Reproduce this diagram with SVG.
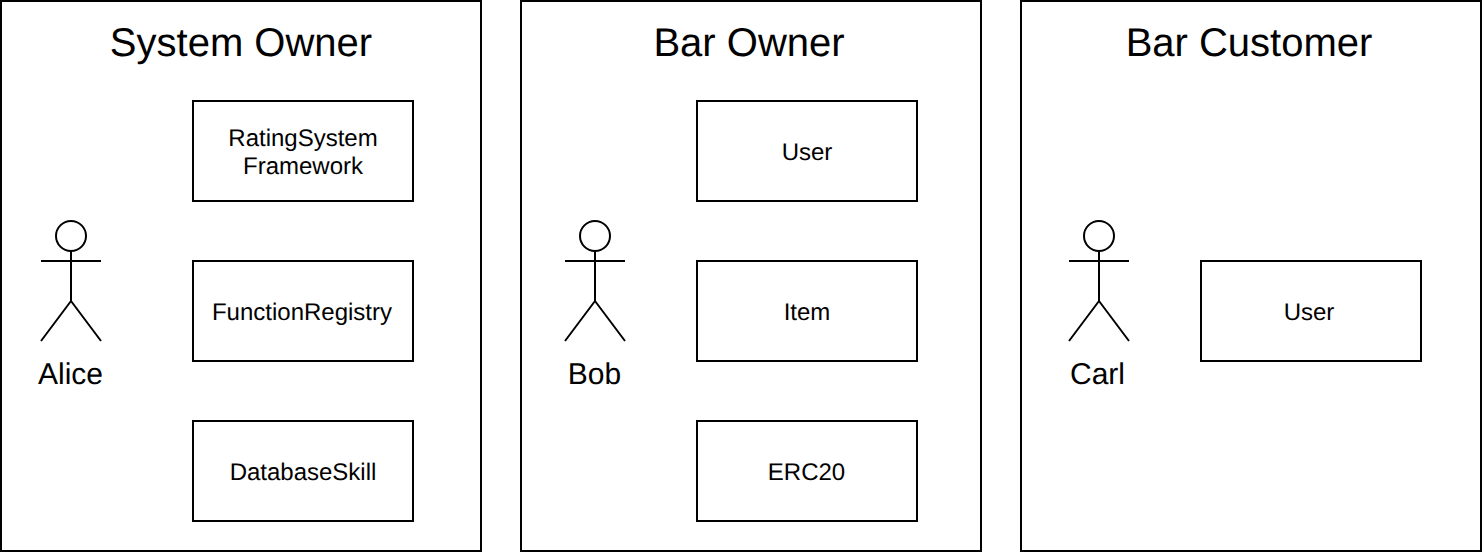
<svg xmlns="http://www.w3.org/2000/svg" width="1482" height="552" viewBox="0 0 1482 552">
<style>
.b{fill:#fff;stroke:#000;stroke-width:2}
.l{fill:none;stroke:#000;stroke-width:2}
text{font-family:"Liberation Sans",Arial,sans-serif;fill:#000;text-anchor:middle;text-rendering:geometricPrecision}
.h{font-size:40px}.a{font-size:30px}.t{font-size:24px}
</style>
<defs>
<g id="actor"><circle class="l" cx="30" cy="15" r="15"/><path class="l" d="M30 30V80M30 80L0 120M30 80L60 120M0 40H60"/></g>
</defs>
<rect width="1482" height="552" fill="#fff"/>
<g id="panel-system-owner"><rect class="b" x="1" y="1" width="480" height="550"/><text class="h" x="241" y="56">System Owner</text></g>
<g id="panel-bar-owner"><rect class="b" x="521" y="1" width="460" height="550"/><text class="h" x="749" y="56">Bar Owner</text></g>
<g id="panel-bar-customer"><rect class="b" x="1021" y="1" width="460" height="550"/><text class="h" x="1249" y="56">Bar Customer</text></g>
<g id="actor-alice"><use href="#actor" x="41" y="221"/><text class="a" x="70.500" y="384">Alice</text></g>
<g id="actor-bob"><use href="#actor" x="565" y="221"/><text class="a" x="594.500" y="384">Bob</text></g>
<g id="actor-carl"><use href="#actor" x="1069" y="221"/><text class="a" x="1097.500" y="384">Carl</text></g>
<g id="node-ratingsystem"><rect class="b" x="193" y="101" width="220" height="100"/><text class="t" x="303" y="146">RatingSystem</text><text class="t" x="303" y="174">Framework</text></g>
<g id="node-functionregistry"><rect class="b" x="193" y="261" width="220" height="100"/><text class="t" x="302" y="320">FunctionRegistry</text></g>
<g id="node-databaseskill"><rect class="b" x="193" y="421" width="220" height="100"/><text class="t" x="303" y="480">DatabaseSkill</text></g>
<g id="node-user-owner"><rect class="b" x="697" y="101" width="220" height="100"/><text class="t" x="807" y="160">User</text></g>
<g id="node-item"><rect class="b" x="697" y="261" width="220" height="100"/><text class="t" x="807" y="320">Item</text></g>
<g id="node-erc20"><rect class="b" x="697" y="421" width="220" height="100"/><text class="t" x="806.500" y="480">ERC20</text></g>
<g id="node-user-customer"><rect class="b" x="1201" y="261" width="220" height="100"/><text class="t" x="1309" y="320">User</text></g>
<g id="connectors"></g>
</svg>
